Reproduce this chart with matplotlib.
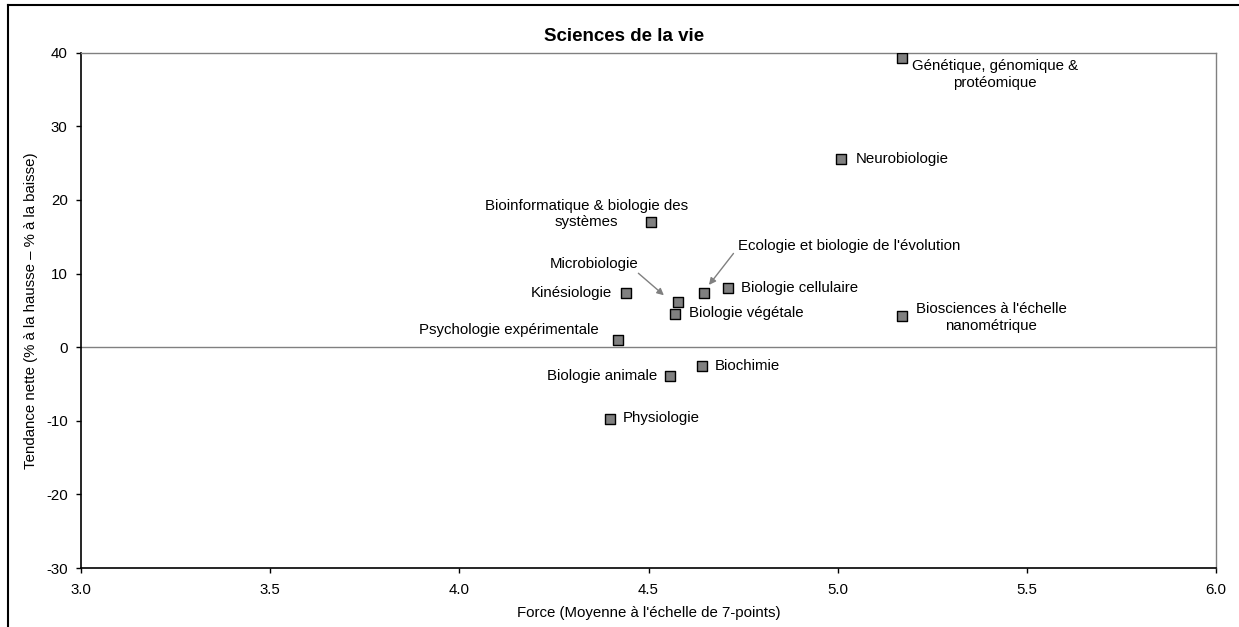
import matplotlib
matplotlib.use("Agg")
import matplotlib.pyplot as plt
import matplotlib.transforms as mtransforms
from matplotlib.lines import Line2D
from matplotlib.ticker import FormatStrFormatter, MultipleLocator

plt.rcParams['font.family'] = ['Liberation Sans', 'DejaVu Sans']
plt.rcParams['axes.unicode_minus'] = False

# data
domaines = ["Génétique, génomique &\nprotéomique", "Neurobiologie",
            "Bioinformatique & biologie des\nsystèmes",
            "Ecologie et biologie de l'évolution", "Biologie cellulaire",
            "Microbiologie", "Biologie végétale", "Kinésiologie",
            "Psychologie expérimentale", "Biologie animale", "Biochimie",
            "Physiologie", "Biosciences à l'échelle\nnanométrique"]
force = [5.17, 5.01, 4.506, 4.648, 4.711, 4.579, 4.570, 4.441, 4.419,
         4.557, 4.641, 4.398, 5.17]
tendance = [39.3, 25.6, 17.0, 7.3, 8.0, 6.1, 4.5, 7.3, 1.0,
            -3.9, -2.6, -9.7, 4.2]

# label placement (pixel offsets from the marker, y up) and alignment
label_pos = [(93, -17, 'center'), (14, 0, 'left'), (-64, 8, 'center'),
             (34, 47, 'left'), (13, 0, 'left'), (-84, 38, 'center'),
             (14, 1, 'left'), (-14, 0, 'right'), (-19, 10, 'right'),
             (-13, 0, 'right'), (13, 0, 'left'), (13, 1, 'left'),
             (89, -1, 'center')]
# arrows: index of point, start offset, end offset (pixels, y up)
arrows = [(3, (29, 40), (4.5, 8.5)), (5, (-40, 29), (-14.5, 7))]

W, H = 1239, 627
fig = plt.figure(figsize=(W / 100, H / 100), dpi=100)
ax = fig.add_axes([81 / W, 1 - 568 / H, (1216 - 81) / W, (568 - 52.7) / H])

ax.scatter(force, tendance, marker='s', s=7.6 ** 2, facecolor='#808080',
           edgecolor='black', linewidth=1, zorder=3)
ax.axhline(0, color='#808080', lw=1, zorder=1)

for i, name in enumerate(domaines):
    dx, dy, ha = label_pos[i]
    ax.annotate(name, (force[i], tendance[i]), xytext=(dx, dy),
                textcoords='offset pixels', ha=ha, va='center',
                multialignment='center', fontsize=10.8, linespacing=1.25)

def shifted(dx, dy):
    return ax.transData + mtransforms.ScaledTranslation(dx / 100, dy / 100,
                                                       fig.dpi_scale_trans)

for i, s, e in arrows:
    ax.annotate('', xy=(force[i], tendance[i]), xycoords=shifted(*e),
                xytext=(force[i], tendance[i]), textcoords=shifted(*s),
                arrowprops=dict(arrowstyle='-|>', color='#808080', lw=1,
                                shrinkA=0, shrinkB=0,
                                mutation_scale=10))

ax.set_xlim(3.0, 6.0)
ax.set_ylim(-30, 40)
ax.xaxis.set_major_locator(MultipleLocator(0.5))
ax.yaxis.set_major_locator(MultipleLocator(10))
ax.xaxis.set_major_formatter(FormatStrFormatter('%.1f'))
ax.tick_params(axis='both', direction='out', length=3.6, width=1,
               labelsize=10.8, color='black')
ax.tick_params(axis='x', pad=7.5)
ax.tick_params(axis='y', pad=6)

for side in ['left', 'bottom']:
    ax.spines[side].set_color('black')
    ax.spines[side].set_linewidth(1.2)
for side in ['top', 'right']:
    ax.spines[side].set_color('#808080')
    ax.spines[side].set_linewidth(1)

ax.set_xlabel("Force (Moyenne à l'échelle de 7-points)", fontsize=10.8,
              va='center')
ax.set_ylabel("Tendance nette (% à la hausse – % à la baisse)",
              fontsize=10.8, va='center')
ax.xaxis.set_label_coords(0.5, -0.0867)
ax.yaxis.set_label_coords(-0.044, 0.5)

fig.text(624 / W, 1 - 36.7 / H, "Sciences de la vie", ha='center',
         va='center', fontsize=13.5, fontweight='bold')

# chart area border (cut off at right and bottom)
fig.add_artist(Line2D([8 / W, 8 / W], [0, 1 - 5.3 / H], color='black',
                      lw=1.5, transform=fig.transFigure))
fig.add_artist(Line2D([8 / W, 1], [1 - 5.3 / H, 1 - 5.3 / H], color='black',
                      lw=1.5, transform=fig.transFigure))

fig.savefig("out.png", dpi=100)
